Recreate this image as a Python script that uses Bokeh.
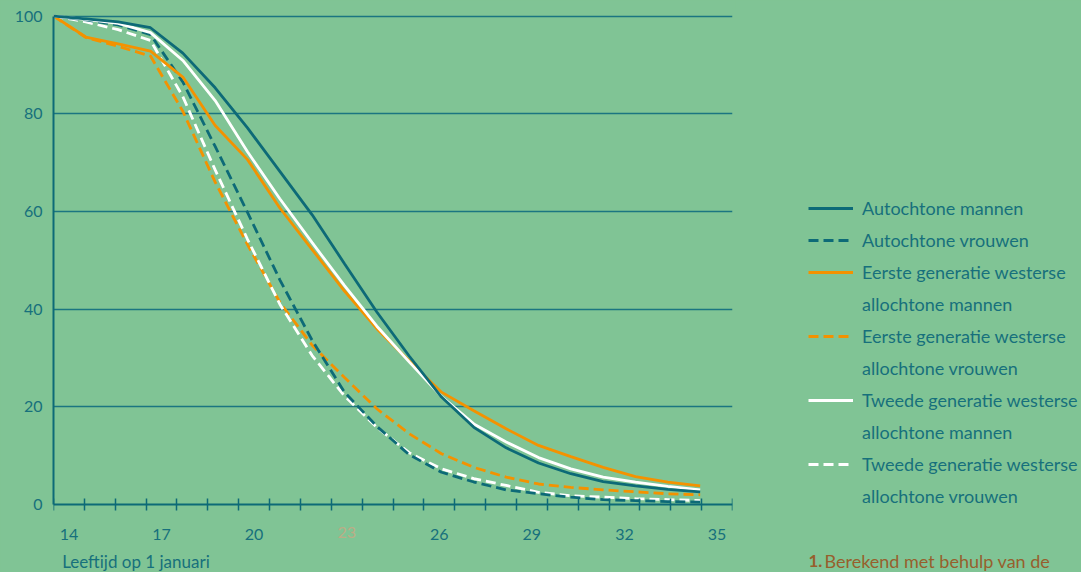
from bokeh.plotting import figure
from bokeh.models import Range1d, LinearAxis, FixedTicker, Legend, LegendItem, Label
from bokeh.layouts import row
from bokeh.embed import file_html
from bokeh.resources import INLINE

# ---- data (percentage, by age) ----
ages = list(range(14, 35))
autochtone_mannen = [100, 99.4, 98.8, 97.6, 92.4, 85.3, 77.1, 68.2, 59.3, 49.3, 39.4, 30.4, 22.0, 15.8, 11.6, 8.5, 6.3, 4.7, 3.8, 3.1, 2.6]
autochtone_vrouwen = [100, 99.2, 98.2, 96.2, 86.5, 73.3, 59.8, 46.0, 33.6, 23.0, 16.0, 10.2, 6.6, 4.6, 3.0, 2.2, 1.5, 1.0, 0.8, 0.6, 0.5]
eerste_mannen = [100, 95.7, 94.3, 92.8, 87.5, 77.6, 70.6, 60.7, 52.2, 43.7, 36.0, 29.4, 23.0, 19.2, 15.5, 12.1, 9.8, 7.6, 5.7, 4.6, 3.8]
eerste_vrouwen = [100, 95.6, 93.8, 91.8, 80.5, 66.0, 53.2, 41.4, 32.6, 26.0, 19.6, 14.5, 10.4, 7.6, 5.6, 4.2, 3.5, 3.0, 2.6, 2.2, 2.0]
tweede_mannen = [100, 99.3, 98.5, 96.6, 90.9, 82.7, 72.2, 62.6, 53.6, 44.8, 36.5, 29.2, 22.1, 16.5, 12.8, 9.6, 7.3, 5.6, 4.6, 3.7, 3.0]
tweede_vrouwen = [100, 98.8, 97.2, 95.0, 83.5, 68.5, 54.3, 41.0, 30.5, 22.2, 15.8, 10.6, 7.3, 5.3, 3.9, 2.5, 1.8, 1.5, 1.2, 1.0, 0.8]

x_tick_labels = ["14", "17", "20", "23", "26", "29", "32", "35"]
faint_tick_label = "23"
y_ticks = [0, 20, 40, 60, 80, 100]

legend_labels = [
    ("Autochtone mannen", None),
    ("Autochtone vrouwen", None),
    ("Eerste generatie westerse", "allochtone mannen"),
    ("Eerste generatie westerse", "allochtone vrouwen"),
    ("Tweede generatie westerse", "allochtone mannen"),
    ("Tweede generatie westerse", "allochtone vrouwen"),
]
x_title = "Leeftijd op 1 januari"
footnote_num = "1."
footnote_text = "Berekend met behulp van de"

# ---- styling ----
BG = "#80c495"
TEAL = "#0d6a77"
TEXT = "#17707c"
GRID = "#1b7581"
ORANGE = "#f39200"
WHITE = "#ffffff"
BROWN = "#975f2d"
FONT = "Lato"
DASH = "10 5"
LW = 2.8

# ---------------- main chart ----------------
p = figure(width=735, height=572, output_backend="svg", toolbar_location=None,
           x_range=Range1d(14, 35), y_range=Range1d(-13.92, 101.54),
           x_axis_location=None, y_axis_location="left",
           min_border_left=53, min_border_right=3, min_border_top=8, min_border_bottom=0)
p.background_fill_color = BG
p.border_fill_color = BG
p.outline_line_color = None
p.extra_x_ranges = {"ax": Range1d(14, 36)}

p.xgrid.visible = False
p.ygrid.ticker = FixedTicker(ticks=[20, 40, 60, 80, 100])
p.ygrid.grid_line_color = GRID
p.ygrid.grid_line_width = 1.5

ya = p.yaxis[0]
ya.ticker = FixedTicker(ticks=y_ticks)
ya.bounds = (0, 100)
ya.axis_line_color = TEAL
ya.axis_line_width = 2
ya.major_tick_out = 0
ya.major_tick_in = 0
ya.minor_tick_out = 0
ya.minor_tick_in = 0
ya.major_label_standoff = 11
ya.major_label_text_font = FONT
ya.major_label_text_font_size = "16px"
ya.major_label_text_color = TEXT

label_pos = [int(t) + 0.5 for t in x_tick_labels]
xa = LinearAxis(x_range_name="ax", fixed_location=0,
                ticker=FixedTicker(ticks=label_pos, minor_ticks=list(range(14, 37))))
xa.major_label_overrides = {pos: ("" if lab == faint_tick_label else lab)
                            for pos, lab in zip(label_pos, x_tick_labels)}
xa.axis_line_color = TEAL
xa.axis_line_width = 2
xa.major_tick_out = 0
xa.major_tick_in = 0
xa.minor_tick_out = 6
xa.minor_tick_in = 6
xa.minor_tick_line_color = TEAL
xa.minor_tick_line_width = 1.5
xa.major_label_standoff = 18
xa.major_label_text_font = FONT
xa.major_label_text_font_size = "16px"
xa.major_label_text_color = TEXT
p.add_layout(xa, "below")

# faint "23" tick label as in the reference
p.add_layout(Label(x=23.5, y=-5.67, x_range_name="ax", text=faint_tick_label,
                   text_align="center", text_baseline="middle", text_font=FONT,
                   text_font_size="16px", text_color="#e59c7c", text_alpha=0.6))

# axis title, left aligned
p.add_layout(Label(x=14.28, y=-11.6, x_range_name="ax", text=x_title,
                   text_align="left", text_baseline="middle", text_font=FONT,
                   text_font_size="17px", text_color=TEXT))

r_ev = p.line(ages, eerste_vrouwen, line_color=ORANGE, line_width=LW, line_dash=DASH)
r_tv = p.line(ages, tweede_vrouwen, line_color=WHITE, line_width=LW, line_dash=DASH)
r_av = p.line(ages, autochtone_vrouwen, line_color=TEAL, line_width=LW, line_dash=DASH)
r_em = p.line(ages, eerste_mannen, line_color=ORANGE, line_width=LW)
r_tm = p.line(ages, tweede_mannen, line_color=WHITE, line_width=LW)
r_am = p.line(ages, autochtone_mannen, line_color=TEAL, line_width=LW)

# ---------------- legend / footnote panel ----------------
q = figure(width=346, height=572, output_backend="svg", toolbar_location=None,
           x_range=Range1d(0, 346), y_range=Range1d(572, 0),
           x_axis_location=None, y_axis_location=None,
           min_border_left=0, min_border_right=0, min_border_top=0, min_border_bottom=0)
q.background_fill_color = BG
q.border_fill_color = BG
q.outline_line_color = None
q.grid.visible = False

styles = [(TEAL, "solid"), (TEAL, DASH), (ORANGE, "solid"), (ORANGE, DASH),
          (WHITE, "solid"), (WHITE, DASH)]
# legend-sample renderers (single off-screen point: nothing drawn in the panel)
dummy = q.line([-100], [-100], line_alpha=0)
items = []
for (col, dash), (l1, l2) in zip(styles, legend_labels):
    r = q.line([-100], [-100], line_color=col, line_width=LW, line_dash=dash)
    items.append(LegendItem(label=l1, renderers=[r]))
    if l2:
        items.append(LegendItem(label=l2, renderers=[dummy]))

legend = Legend(items=items, location=(73, 62), orientation="vertical",
                label_text_font=FONT, label_text_font_size="18px", label_text_color=TEXT,
                glyph_width=45, glyph_height=28, label_height=28, spacing=4,
                label_standoff=9, padding=0, margin=0,
                background_fill_alpha=0, border_line_alpha=0)
q.add_layout(legend, "center")

q.add_layout(Label(x=73, y=560, text=footnote_num, text_align="left",
                   text_baseline="middle", text_font=FONT, text_font_size="17px",
                   text_font_style="bold", text_color=BROWN))
q.add_layout(Label(x=89, y=560, text=footnote_text, text_align="left",
                   text_baseline="middle", text_font=FONT, text_font_size="18px",
                   text_color=BROWN))

layout = row(p, q, styles={"background-color": BG})
open("out.html", "w").write(file_html(layout, INLINE))
